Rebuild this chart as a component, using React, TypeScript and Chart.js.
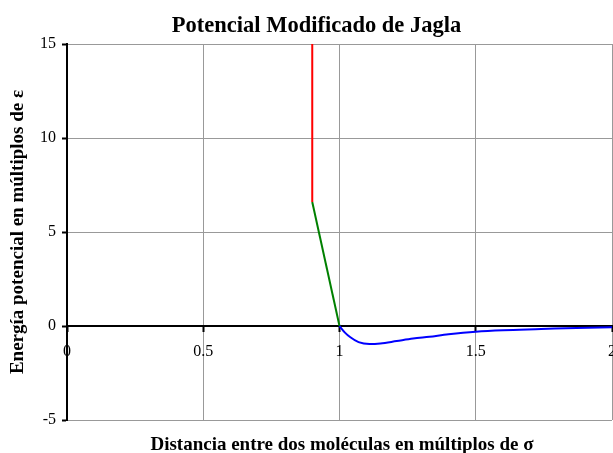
import React, { useEffect, useRef } from "react";
import { Chart, registerables } from "chart.js";

Chart.register(...registerables);

const titleText = "Potencial Modificado de Jagla";
const xTitle = "Distancia entre dos moléculas en múltiplos de σ";
const yTitle = "Energía potencial en múltiplos de ε";

const hardX = [0.9, 0.9];
const hardY = [15, 6.6];
const rampX = [0.9, 1.0];
const rampY = [6.6, 0];
const wellX = [1.0, 1.02, 1.04, 1.07, 1.11, 1.15, 1.21, 1.27, 1.33, 1.4, 1.5, 1.6, 1.74, 1.87, 2.0];
const wellY = [0, -0.35, -0.6, -0.86, -0.96, -0.93, -0.8, -0.67, -0.57, -0.44, -0.3, -0.22, -0.16, -0.1, -0.07];

const pts = (xs: number[], ys: number[]) => xs.map((x, i) => ({ x, y: ys[i] }));

const FONT = "'Liberation Serif', 'Times New Roman', serif";

const textPlugin = {
  id: "chartTexts",
  afterDraw(chart: any) {
    const { ctx, chartArea } = chart;
    ctx.save();
    ctx.fillStyle = "#000";
    ctx.textAlign = "center";
    ctx.textBaseline = "alphabetic";
    ctx.font = `bold 22.5px ${FONT}`;
    ctx.fillText(titleText, chartArea.left + 249.5, 32);
    ctx.font = `bold 19px ${FONT}`;
    ctx.fillText(xTitle, (chartArea.left + chartArea.right) / 2 + 2.5, chartArea.bottom + 30);
    ctx.restore();
  },
};

export default function App() {
  const ref = useRef<HTMLCanvasElement>(null);
  useEffect(() => {
    if (!ref.current) return;
    const gridColor = (c: any) => (c.tick && c.tick.value === 0 ? "rgba(0,0,0,0)" : "#999999");
    const chart = new Chart(ref.current, {
      type: "line",
      data: {
        datasets: [
          { data: pts(hardX, hardY), borderColor: "#ff0000", borderWidth: 2, pointRadius: 0 },
          { data: pts(rampX, rampY), borderColor: "#008000", borderWidth: 2, pointRadius: 0 },
          { data: pts(wellX, wellY), borderColor: "#0000ff", borderWidth: 2, pointRadius: 0, cubicInterpolationMode: "monotone" },
        ],
      },
      options: {
        responsive: false,
        animation: false,
        devicePixelRatio: 1,
        layout: { padding: { left: 0, right: 28, top: 44, bottom: 33 } },
        plugins: {
          legend: { display: false },
          tooltip: { enabled: false },
          title: { display: false },
          subtitle: { display: false },
        },
        scales: {
          x: {
            type: "linear",
            min: 0,
            max: 2,
            position: { y: 0 } as any,
            ticks: {
              stepSize: 0.5,
              color: "#000",
              font: { family: FONT, size: 16 },
              padding: 11,
              maxRotation: 0,
              callback: (v: any) => String(v),
            },
            grid: { color: gridColor, lineWidth: 1, tickLength: 5, tickColor: "#000", tickWidth: 2 },
            border: { display: true, color: "#000", width: 2 },
          },
          y: {
            type: "linear",
            min: -5,
            max: 15,
            ticks: { stepSize: 5, color: "#000", font: { family: FONT, size: 16 }, padding: 6, callback: (v: any) => String(v) },
            grid: { color: gridColor, lineWidth: 1, tickLength: 5, tickColor: "#000", tickWidth: 2 },
            border: { display: true, color: "#000", width: 2 },
            title: {
              display: true,
              text: yTitle,
              color: "#000",
              font: { family: FONT, size: 19, weight: "bold" },
              padding: { top: 6.6, bottom: 0 },
            },
            afterFit: (s: any) => {
              s.width = 67;
            },
          },
        },
      } as any,
      plugins: [textPlugin],
    });
    return () => chart.destroy();
  }, []);
  return (
    <div style={{ position: "absolute", left: 0, top: 0, width: 613, height: 453, overflow: "hidden", background: "#fff" }}>
      <canvas ref={ref} width={640} height={453} style={{ width: 640, height: 453 }} />
    </div>
  );
}
